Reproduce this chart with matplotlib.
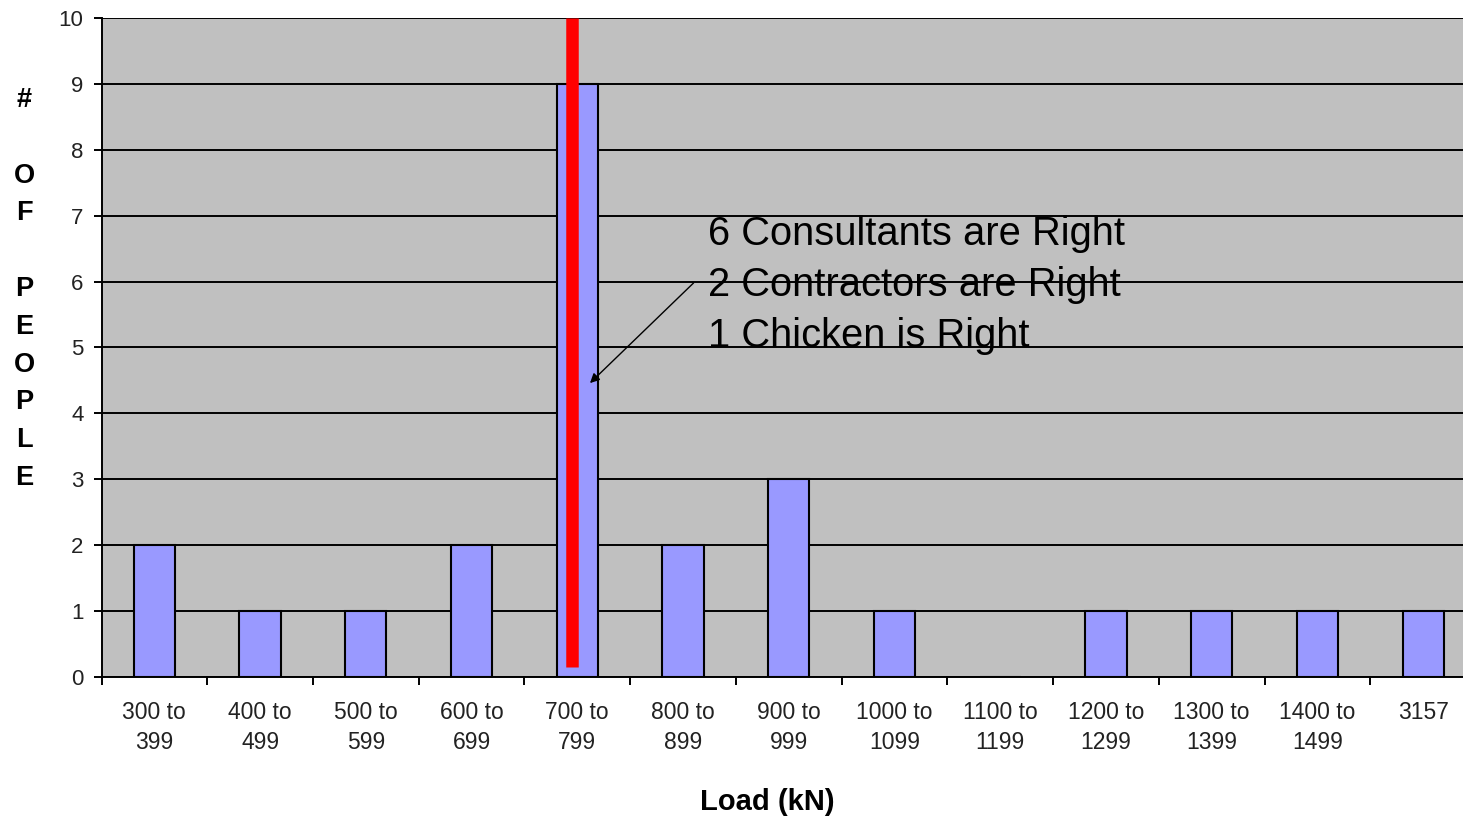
import numpy as np
import matplotlib.pyplot as plt

# ---------------- data ----------------
categories = ["300 to\n399", "400 to\n499", "500 to\n599", "600 to\n699",
              "700 to\n799", "800 to\n899", "900 to\n999", "1000 to\n1099",
              "1100 to\n1199", "1200 to\n1299", "1300 to\n1399", "1400 to\n1499",
              "3157"]
counts = [2, 1, 1, 2, 9, 2, 3, 1, 0, 1, 1, 1, 1]
answer_pos = 3.95          # red marker inside the 700-799 bin
answer_range = [0.15, 10]
note = "6 Consultants are Right\n2 Contractors are Right\n1 Chicken is Right"

plt.rcParams['font.family'] = ['Liberation Sans', 'DejaVu Sans']

fig = plt.figure(figsize=(14.63, 8.19), dpi=100)
ax = fig.add_axes([101.5 / 1463, 1 - 677 / 819, (1476 - 101.5) / 1463, (677 - 18) / 819])
ax.set_facecolor("#C0C0C0")

x = np.arange(len(categories))
ax.bar(x, counts, width=0.39, color="#9999FF", edgecolor="black", linewidth=1.5, zorder=3)
ax.plot([answer_pos, answer_pos], answer_range, color="#FF0000", linewidth=9,
        solid_capstyle="butt", zorder=4)

ax.set_xlim(-0.5, len(categories) - 0.5)
ax.set_ylim(0, 10)
ax.set_yticks(range(0, 11))
ax.yaxis.grid(True, color="black", linewidth=1.4, zorder=1)
ax.set_axisbelow(True)

# category labels at centres, tick marks at the bin edges
ax.set_xticks(np.arange(-0.5, len(categories) - 0.4, 1))
ax.set_xticklabels([])
ax.set_xticks(x, minor=True)
ax.set_xticklabels(categories, minor=True, fontsize=16.5, color="#222222", linespacing=1.4)
ax.tick_params(axis="x", which="minor", length=0, pad=17)
ax.tick_params(axis="x", which="major", length=6, width=1.4, direction="out")
ax.tick_params(axis="y", length=6, width=1.4, labelsize=16, labelcolor="#222222", pad=7)

for s in ["top", "right"]:
    ax.spines[s].set_visible(False)
ax.spines["left"].set_linewidth(1.4)
ax.spines["bottom"].set_linewidth(1.4)

# note text + arrow pointing at the 700-799 bar
ax.text(5.24, 5.95, note, fontsize=28.7, va="center", ha="left", linespacing=1.44, zorder=5)
ax.annotate("", xy=(4.12, 4.46), xytext=(5.10, 5.98),
            arrowprops=dict(arrowstyle="-|>", color="black", lw=1.0,
                            shrinkA=0, shrinkB=0, mutation_scale=14), zorder=5)

fig.text(24 / 1463, 1 - 289 / 819, "#\n\nO\nF\n\nP\nE\nO\nP\nL\nE", fontsize=19.5,
         fontweight="bold", ha="center", va="center", linespacing=1.59)
fig.text(767 / 1463, 1 - 802 / 819, "Load (kN)", fontsize=21, fontweight="bold",
         ha="center", va="center")

fig.savefig("out.png", dpi=100)
